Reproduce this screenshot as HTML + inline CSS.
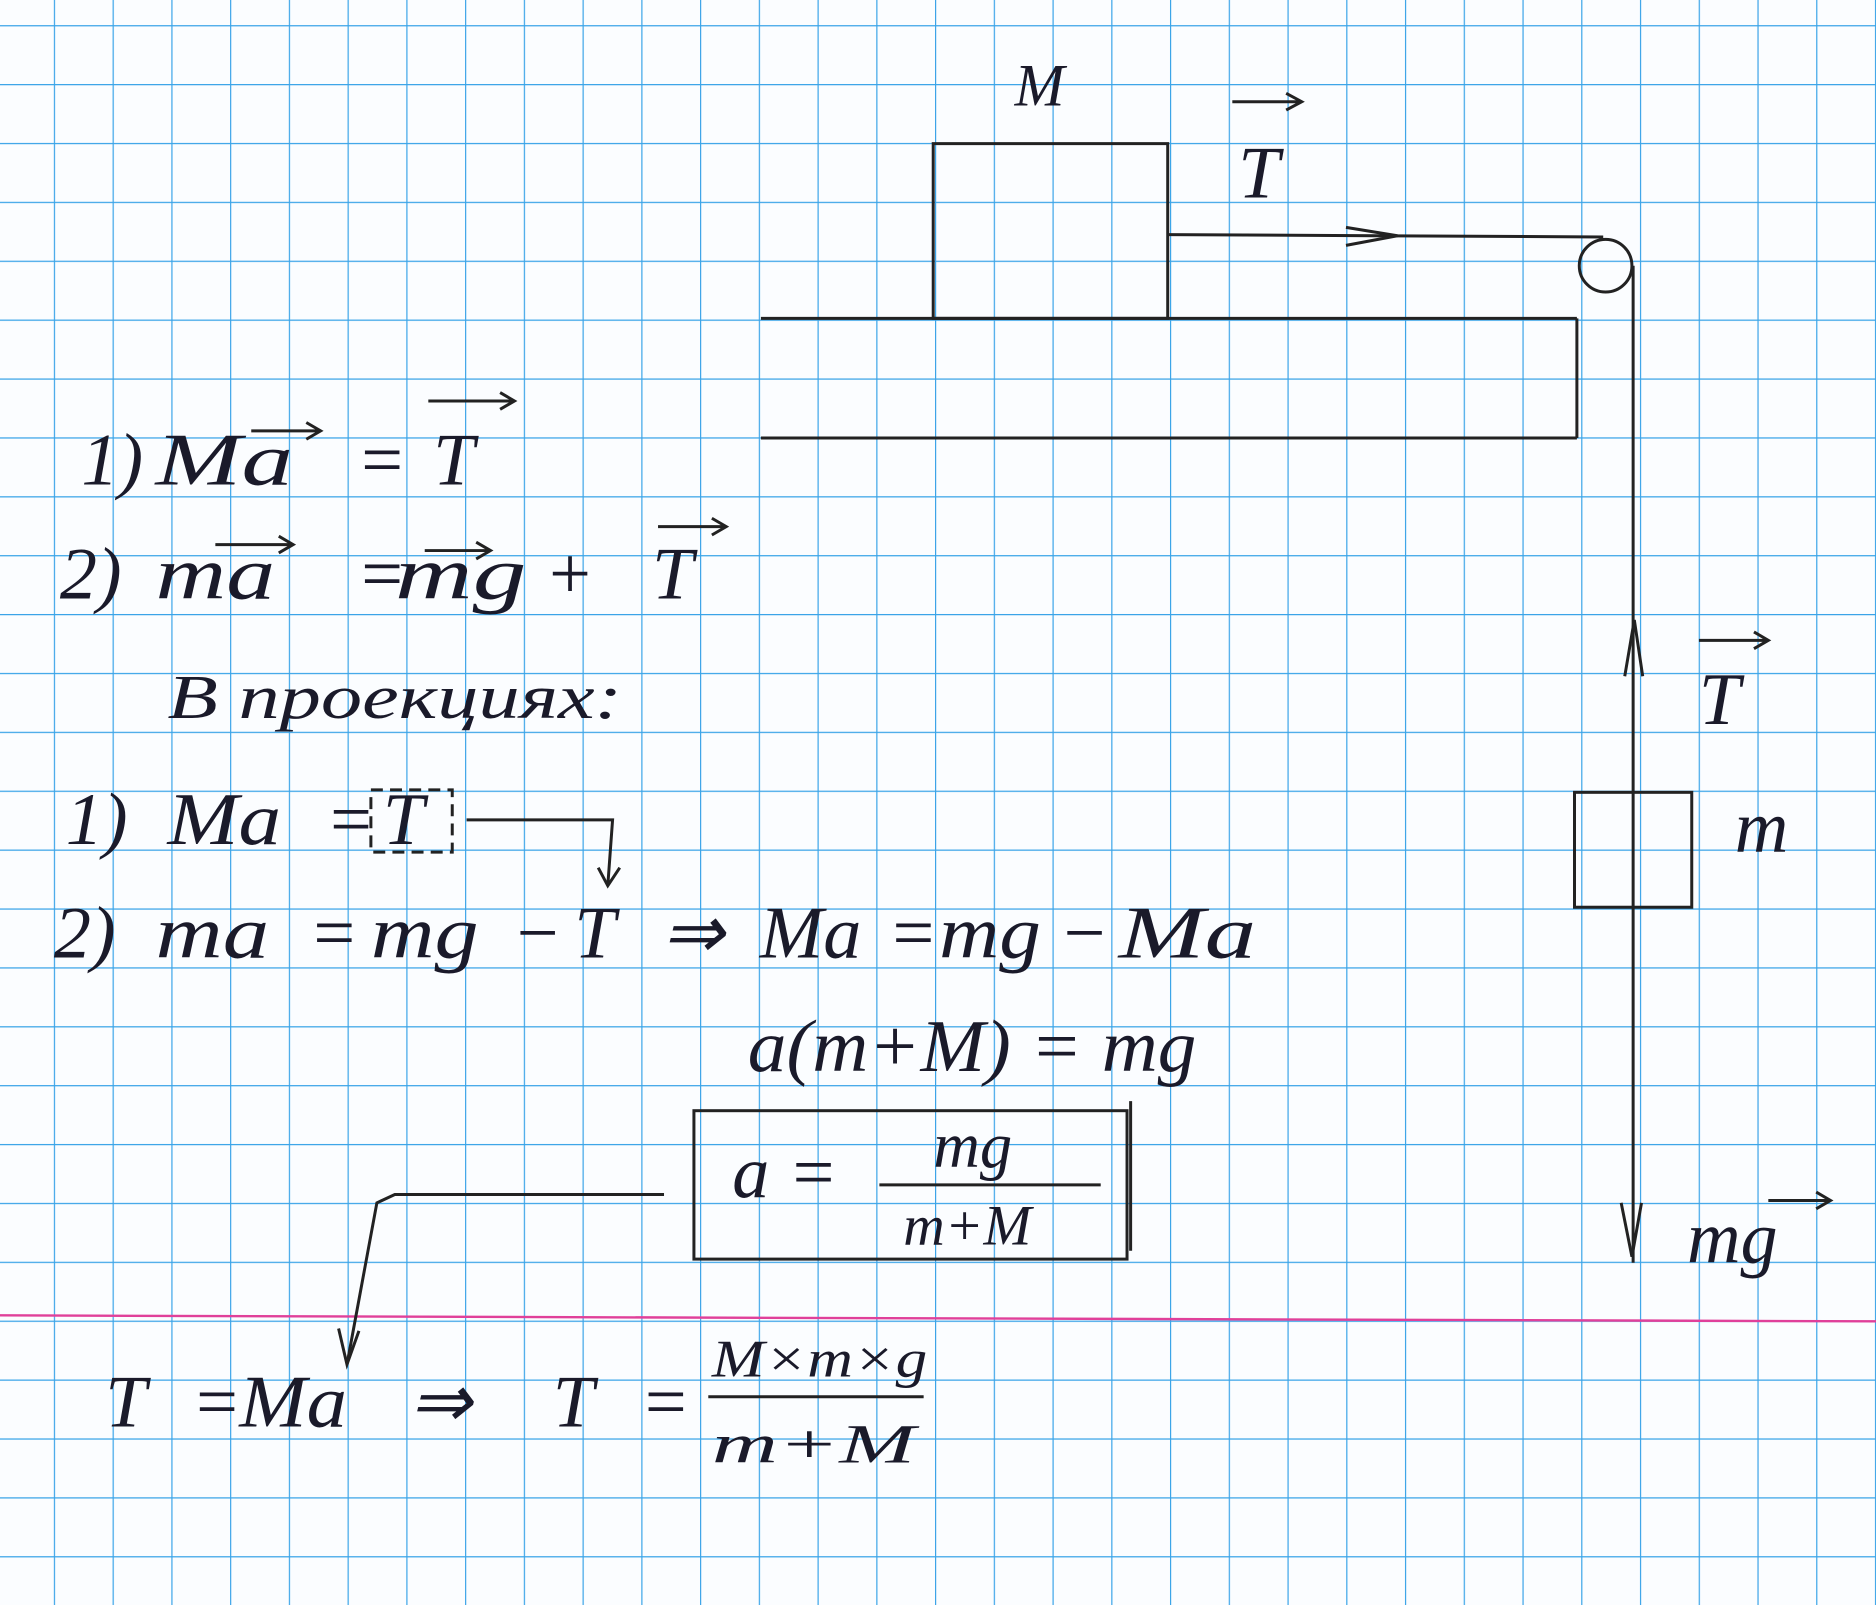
<!DOCTYPE html>
<html><head><meta charset="utf-8"><style>
html,body{margin:0;padding:0;background:#fff;}
svg{display:block;}
text{font-family:"Liberation Serif",serif;font-style:italic;fill:#1a1a2a;}
</style></head><body>
<svg width="1876" height="1605" viewBox="0 0 1568 1341" preserveAspectRatio="none">
<defs>
<pattern id="g" x="45" y="21" width="49.1" height="49.2" patternUnits="userSpaceOnUse">
<path d="M0 0V49.2M0 0H49.1" stroke="#3aa4e8" stroke-width="2" fill="none"/>
</pattern>
</defs>
<rect width="1568" height="1341" fill="#fbfdff"/>
<rect width="1568" height="1341" fill="url(#g)"/>
<line x1="0" y1="1099" x2="1568" y2="1104" stroke="#e0409a" stroke-width="2"/>
<g stroke="#222" stroke-width="2.5" fill="none">
<rect x="780" y="120" width="196" height="146"/>
<line x1="636" y1="266" x2="1318" y2="266"/>
<line x1="1318" y1="266" x2="1318" y2="366"/>
<line x1="636" y1="366" x2="1318" y2="366"/>
<line x1="976" y1="196" x2="1340" y2="198"/>
<circle cx="1342" cy="222" r="22"/>
<line x1="1365" y1="222" x2="1365" y2="1055"/>
<path d="M1125 190 L1168 197 L1125 205"/>
<path d="M1358 565 L1366 518 L1373 565"/>
<path d="M1355 1005 L1364 1050 L1372 1005"/>
<rect x="1316" y="662" width="98" height="96"/>
<rect x="580" y="928" width="362" height="124"/>
<line x1="945" y1="920" x2="945" y2="1045"/>
<line x1="735" y1="990" x2="920" y2="990"/>
<path d="M555 998 L330 998 L315 1005 L290 1140"/>
<path d="M283 1110 L290 1140 L300 1112"/>
<path d="M390 685 L512 685 L508 740"/>
<path d="M500 725 L508 740 L518 725"/>
<rect x="310" y="660" width="68" height="52" stroke-dasharray="10 6"/>
<path d="M1030 85 H1088 M1075 78 L1088 85 L1075 92"/>
<path d="M358 335 H430 M418 328 L430 335 L418 342"/>
<path d="M210 360 H268 M256 353 L268 360 L256 367"/>
<path d="M180 455 H245 M233 448 L245 455 L233 462"/>
<path d="M355 460 H410 M398 453 L410 460 L398 467"/>
<path d="M550 440 H607 M595 433 L607 440 L595 447"/>
<path d="M1420 535 H1478 M1466 528 L1478 535 L1466 542"/>
<path d="M1478 1003 H1530 M1518 996 L1530 1003 L1518 1010"/>
</g>
<g font-size="62">
<text x="848" y="88" font-size="50">M</text>
<text x="1035" y="165">T</text>
<text x="68" y="405">1)</text><text x="130" y="405" textLength="115" lengthAdjust="spacingAndGlyphs">Ma</text>
<text x="298" y="405">=</text><text x="362" y="405">T</text>
<text x="50" y="500">2)</text><text x="130" y="500" textLength="100" lengthAdjust="spacingAndGlyphs">ma</text>
<text x="298" y="500">=</text><text x="330" y="500" textLength="110" lengthAdjust="spacingAndGlyphs">mg</text>
<text x="455" y="500">+</text><text x="545" y="500">T</text>
<text x="140" y="600" font-size="52" textLength="380" lengthAdjust="spacingAndGlyphs">B проекциях:</text>
<text x="55" y="705">1)</text><text x="140" y="705" textLength="95" lengthAdjust="spacingAndGlyphs">Ma</text>
<text x="272" y="705">=</text><text x="320" y="705">T</text>
<text x="45" y="800">2)</text><text x="130" y="800" textLength="95" lengthAdjust="spacingAndGlyphs">ma</text>
<text x="258" y="800">=</text><text x="310" y="800" textLength="90" lengthAdjust="spacingAndGlyphs">mg</text>
<text x="428" y="800">−</text><text x="480" y="800">T</text>
<text x="553" y="800">⇒</text><text x="635" y="800" textLength="85" lengthAdjust="spacingAndGlyphs">Ma</text>
<text x="742" y="800">=</text><text x="785" y="800" textLength="85" lengthAdjust="spacingAndGlyphs">mg</text>
<text x="885" y="800">−</text><text x="935" y="800" textLength="115" lengthAdjust="spacingAndGlyphs">Ma</text>
<text x="625" y="895" textLength="375" lengthAdjust="spacingAndGlyphs">a(m+M) = mg</text>
<text x="612" y="1000">a =</text>
<text x="780" y="975" font-size="54">mg</text>
<text x="755" y="1040" font-size="48">m+M</text>
<text x="1420" y="605">T</text>
<text x="1450" y="712">m</text>
<text x="1410" y="1055">mg</text>
<text x="88" y="1192">T</text><text x="160" y="1192">=</text>
<text x="200" y="1192" textLength="90" lengthAdjust="spacingAndGlyphs">Ma</text>
<text x="342" y="1192">⇒</text><text x="462" y="1192">T</text><text x="535" y="1192">=</text>
<text x="595" y="1150" font-size="44" textLength="180" lengthAdjust="spacingAndGlyphs">M×m×g</text>
<text x="595" y="1222" font-size="46" textLength="170" lengthAdjust="spacingAndGlyphs">m+M</text>
</g>
<line x1="592" y1="1167" x2="772" y2="1167" stroke="#222" stroke-width="2.5"/>
</svg>
</body></html>
